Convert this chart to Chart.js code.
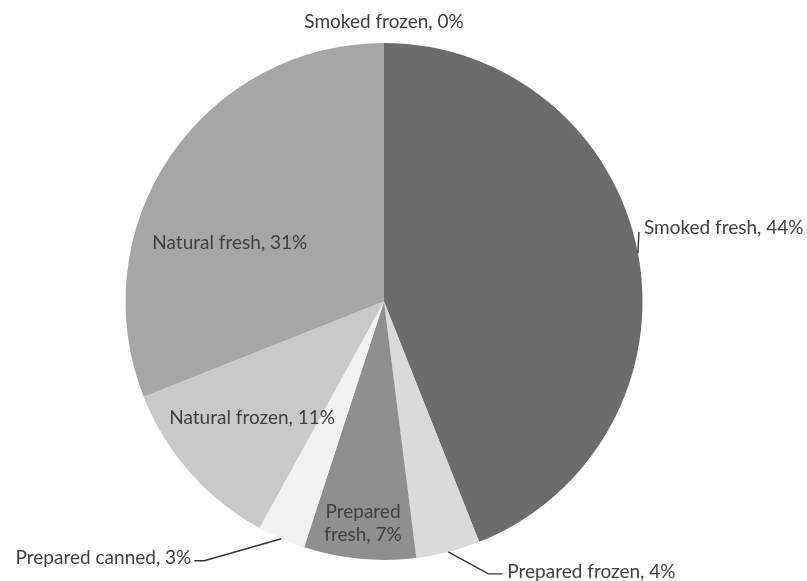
<!DOCTYPE html>
<html>
<head>
<meta charset="utf-8">
<script src="https://cdn.jsdelivr.net/npm/chart.js@4/dist/chart.umd.min.js"></script>
<style>
  html, body { margin: 0; padding: 0; background: #fff; }
  #wrap { width: 807px; height: 581px; position: relative; }
</style>
</head>
<body>
<div id="wrap"><canvas id="grafico"></canvas></div>
<script>
// dados do gráfico (sentido horário a partir do topo)
const categorias = ['Smoked frozen', 'Smoked fresh', 'Prepared frozen', 'Prepared fresh', 'Prepared canned', 'Natural frozen', 'Natural fresh'];
const valores = [0, 44, 4, 7, 3, 11, 31];
const cores = ['#5a5a5a', '#6c6c6c', '#dadada', '#8f8f8f', '#f2f2f2', '#c9c9c9', '#a6a6a6'];

// como cada rótulo é colocado (posição relativa à fatia)
const rotulos = [
    { tipo: 'dentro', r: 1.083, da: 0 },
    { tipo: 'fora', cotovelo: [1, -21], cauda: 0, lado: 'dir' },
    { tipo: 'fora', cotovelo: [40, 22], cauda: 14, lado: 'dir' },
    { tipo: 'dentro', r: 0.864, da: 0, quebra: true },
    { tipo: 'fora', cotovelo: [-77, 22], cauda: -10, lado: 'esq' },
    { tipo: 'dentro', r: 0.68, da: 0 },
    { tipo: 'dentro', r: 0.638, da: -13.4 }
];

const fonte = '19px Lato';
const corTexto = '#404040';

const pluginRotulos = {
    id: 'rotulos',
    afterDraw(chart) {
        const ctx = chart.ctx;
        const meta = chart.getDatasetMeta(0);
        ctx.save();
        ctx.font = fonte;
        ctx.fillStyle = corTexto;
        ctx.strokeStyle = '#333';
        ctx.lineWidth = 1.4;
        ctx.textBaseline = 'middle';
        meta.data.forEach((arco, i) => {
            const cfg = rotulos[i];
            const p = arco.getProps(['x', 'y', 'startAngle', 'endAngle', 'outerRadius'], true);
            const meio = (p.startAngle + p.endAngle) / 2;
            const texto = categorias[i] + ', ' + valores[i] + '%';
            if (cfg.tipo === 'dentro') {
                const a = meio + cfg.da * Math.PI / 180;
                const x = p.x + Math.cos(a) * p.outerRadius * cfg.r;
                const y = p.y + Math.sin(a) * p.outerRadius * cfg.r;
                ctx.textAlign = 'center';
                if (cfg.quebra) {
                    // quebra depois da primeira palavra
                    const corte = texto.indexOf(' ');
                    ctx.fillText(texto.slice(0, corte), x, y - 11.5);
                    ctx.fillText(texto.slice(corte + 1), x, y + 11.5);
                } else {
                    ctx.fillText(texto, x, y);
                }
            } else {
                const x0 = p.x + Math.cos(meio) * p.outerRadius;
                const y0 = p.y + Math.sin(meio) * p.outerRadius;
                const x1 = x0 + cfg.cotovelo[0];
                const y1 = y0 + cfg.cotovelo[1];
                const x2 = x1 + cfg.cauda;
                ctx.beginPath();
                ctx.moveTo(x0, y0);
                ctx.lineTo(x1, y1);
                ctx.lineTo(x2, y1);
                ctx.stroke();
                if (cfg.lado === 'dir') {
                    ctx.textAlign = 'left';
                    ctx.fillText(texto, x2 + 5, y1 - (cfg.cauda ? 2 : 4));
                } else {
                    ctx.textAlign = 'right';
                    ctx.fillText(texto, x2 - 3, y1 - 3);
                }
            }
        });
        ctx.restore();
    }
};

new Chart(document.getElementById('grafico'), {
    type: 'pie',
    data: {
        labels: categorias,
        datasets: [{
            data: valores,
            backgroundColor: cores,
            borderWidth: 0
        }]
    },
    options: {
        responsive: true,
        maintainAspectRatio: false,
        animation: false,
        layout: { padding: { left: 125, right: 164, top: 43, bottom: 21 } },
        plugins: { legend: { display: false }, tooltip: { enabled: false } }
    },
    plugins: [pluginRotulos]
});
</script>
</body>
</html>
